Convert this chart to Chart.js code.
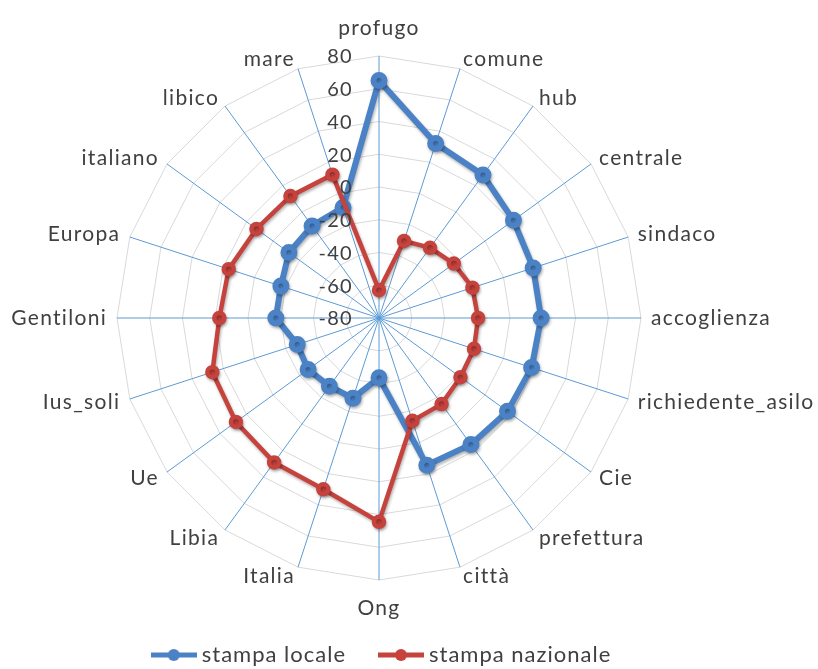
<!DOCTYPE html>
<html><head><meta charset="utf-8">
<script src="https://cdn.jsdelivr.net/npm/chart.js@4.4.1/dist/chart.umd.min.js"></script>
<style>html,body{margin:0;padding:0;background:#fff;}#wrap{width:818px;height:669px;position:relative;}</style>
</head><body><div id="wrap"><canvas id="c"></canvas></div>
<script>
const categories = ['profugo','comune','hub','centrale','sindaco','accoglienza','richiedente_asilo','Cie','prefettura','città','Ong','Italia','Libia','Ue','Ius_soli','Gentiloni','Europa','italiano','libico','mare'];
const stampaLocale = [65, 32, 28, 21.5, 19, 19, 18, 17, 15.5, 14.5, -43.5, -28.5, -28.5, -26.5, -27.5, -17, -17, -12, -10.5, -9];
const stampaNazionale = [-63, -30.5, -27, -23.5, -20, -19.5, -19, -18.5, -15, -14, 44.5, 30, 29, 28, 27, 17.5, 16.5, 12.5, 12, 12];
const tickValues = [-80, -60, -40, -20, 0, 20, 40, 60, 80];
const seriesNames = ['stampa locale', 'stampa nazionale'];

const FONT = 'Lato, "Open Sans", sans-serif';
const TEXT = '#404040';
const BLUE = '#4a82c5', RED = '#c6423d';

function legendMarker(color){
  const c = document.createElement('canvas'); c.width = 46; c.height = 14;
  const g = c.getContext('2d');
  g.strokeStyle = color; g.lineWidth = 5;
  g.beginPath(); g.moveTo(0,7); g.lineTo(46,7); g.stroke();
  g.fillStyle = color; g.beginPath(); g.arc(23,7,6,0,Math.PI*2); g.fill();
  return c;
}
const markers = [legendMarker(BLUE), legendMarker(RED)];

const overlay = {
  id: 'overlay',
  beforeLayout(chart){ chart.ctx.letterSpacing = '1px'; },
  beforeDraw(chart){ chart.ctx.letterSpacing = '1px'; },
  beforeDatasetDraw(chart){
    const ctx = chart.ctx; ctx.save();
    ctx.shadowColor = 'rgba(0,0,0,0.3)'; ctx.shadowBlur = 3; ctx.shadowOffsetX = 1; ctx.shadowOffsetY = 2;
  },
  afterDatasetDraw(chart){ chart.ctx.restore(); },
  afterDraw(chart){
    const s = chart.scales.r; const ctx = chart.ctx;
    ctx.save();
    ctx.fillStyle = TEXT;
    ctx.letterSpacing = '1.3px';
    ctx.font = '21px ' + FONT;
    ctx.textBaseline = 'middle';
    const R = s.drawingArea;
    const n = categories.length;
    categories.forEach((lab, i) => {
      let p;
      if (i === 0 || i === n/2) {
        p = s.getPointPosition(i, R + 28); ctx.textAlign = 'center';
      } else {
        p = s.getPointPosition(i, R + 10); ctx.textAlign = i < n/2 ? 'left' : 'right';
      }
      ctx.fillText(lab, p.x, p.y);
    });
    ctx.font = '20px ' + FONT;
    ctx.textAlign = 'right';
    tickValues.forEach(v => {
      const d = s.getDistanceFromCenterForValue(v);
      ctx.fillText(String(v), s.xCenter - 26, s.yCenter - d + 1);
    });
    ctx.restore();
  }
};

new Chart(document.getElementById('c'), {
  type: 'radar',
  data: {
    labels: categories,
    datasets: [
      { label: seriesNames[0], data: stampaLocale, borderColor: BLUE, backgroundColor: BLUE, pointBackgroundColor: BLUE, pointBorderColor: BLUE, borderWidth: 6, pointRadius: 5.5, fill: false, order: 1 },
      { label: seriesNames[1], data: stampaNazionale, borderColor: RED, backgroundColor: RED, pointBackgroundColor: RED, pointBorderColor: RED, borderWidth: 4.5, pointRadius: 5, fill: false, order: 0 }
    ]
  },
  options: {
    responsive: true, maintainAspectRatio: false, animation: false,
    layout: { padding: { right: 50, bottom: -7 } },
    scales: {
      r: {
        min: -80, max: 80,
        ticks: { stepSize: 20, display: false },
        grid: { color: '#d9d9d9', lineWidth: 1 },
        angleLines: { color: '#5b9bd5', lineWidth: 1 },
        pointLabels: { display: false },
        afterFit(s){ s.xCenter = 379; s.yCenter = 318; s.drawingArea = 262; }
      }
    },
    plugins: {
      tooltip: { enabled: false },
      legend: {
        position: 'bottom',
        labels: {
          usePointStyle: true, pointStyleWidth: 34, boxHeight: 14, padding: 38,
          color: TEXT, font: { family: FONT, size: 22 },
          sort: (a, b) => a.datasetIndex - b.datasetIndex,
          generateLabels(chart){
            const items = Chart.defaults.plugins.legend.labels.generateLabels(chart);
            items.forEach(it => { it.pointStyle = markers[it.datasetIndex]; });
            return items;
          }
        }
      }
    }
  },
  plugins: [overlay]
});
</script></body></html>
